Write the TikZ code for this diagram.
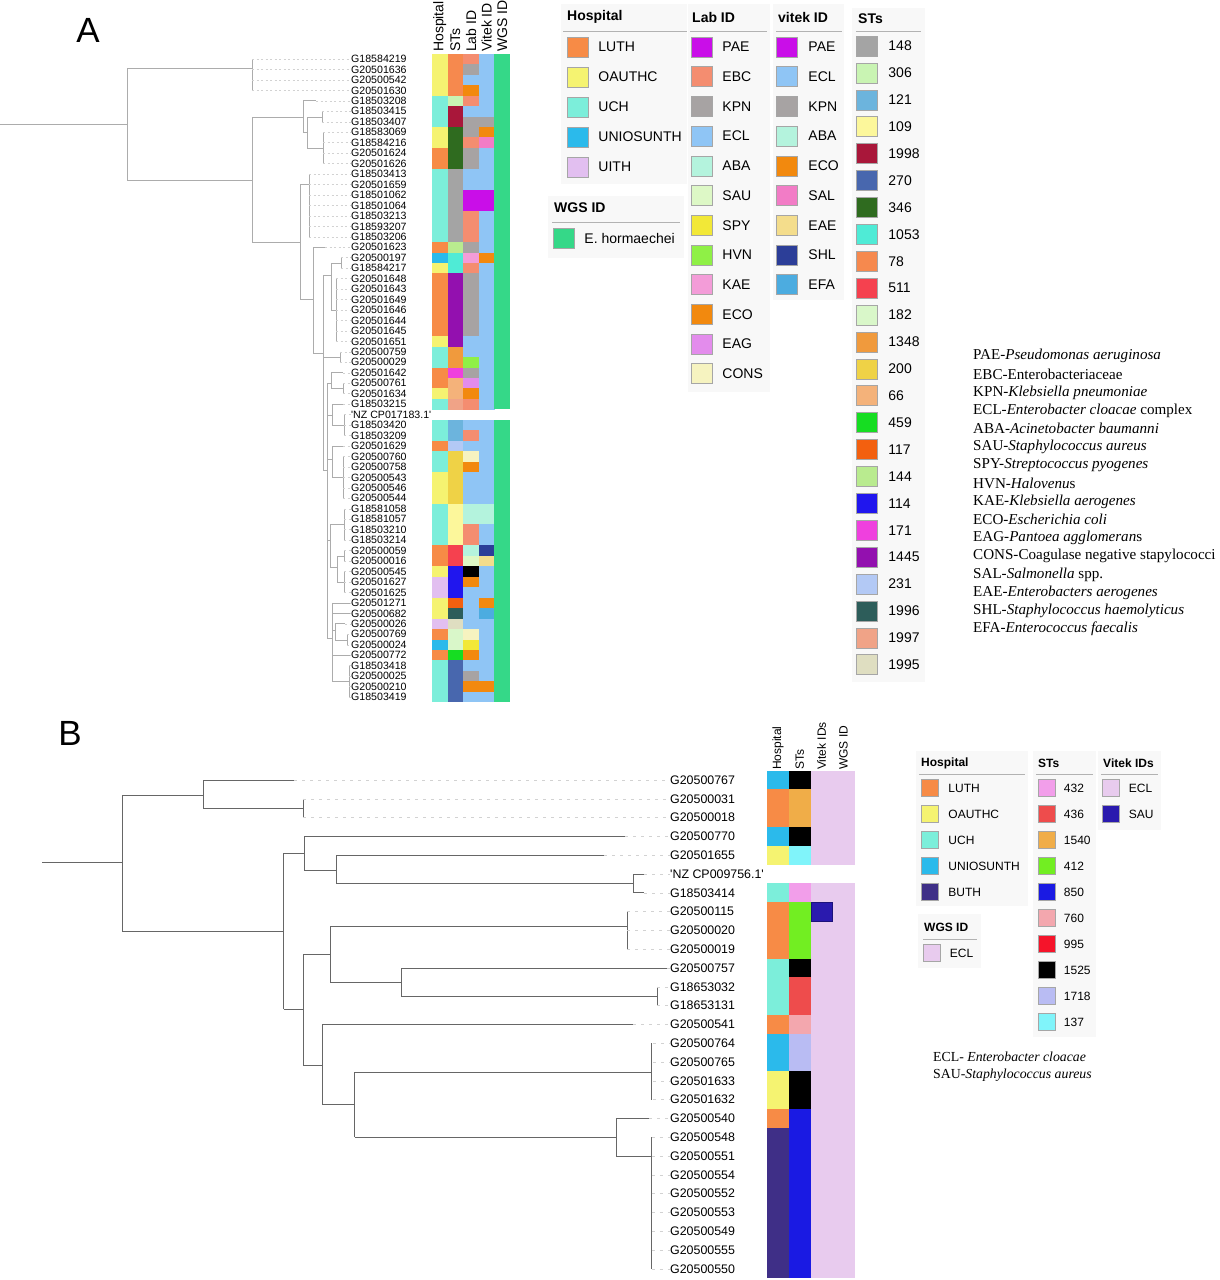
\documentclass[tikz,border=0pt]{standalone}
\usepackage{fontspec}
\setmainfont{Liberation Serif}
\setsansfont{Liberation Sans}
\usetikzlibrary{positioning}
\definecolor{luth}{HTML}{F78B46}
\definecolor{oauthc}{HTML}{F5F371}
\definecolor{uch}{HTML}{7CEEDA}
\definecolor{uniosunth}{HTML}{2BBAEB}
\definecolor{uith}{HTML}{E2BFF0}
\definecolor{buth}{HTML}{3F2F87}
\definecolor{pae}{HTML}{C90EE8}
\definecolor{ebc}{HTML}{F48D70}
\definecolor{kpn}{HTML}{A7A3A3}
\definecolor{ecl}{HTML}{8FC5F5}
\definecolor{aba}{HTML}{B4F3DD}
\definecolor{sau}{HTML}{DDF8C6}
\definecolor{spy}{HTML}{F2E837}
\definecolor{hvn}{HTML}{8FF046}
\definecolor{kae}{HTML}{F39CD8}
\definecolor{eco}{HTML}{F2890E}
\definecolor{eag}{HTML}{E38CEC}
\definecolor{cons}{HTML}{F6F3C0}
\definecolor{sal}{HTML}{F27CC6}
\definecolor{eae}{HTML}{F4DD8C}
\definecolor{shl}{HTML}{2C3E98}
\definecolor{efa}{HTML}{4CACE0}
\definecolor{st148}{HTML}{A4A4A4}
\definecolor{st306}{HTML}{C9F4B3}
\definecolor{st121}{HTML}{6CB4DD}
\definecolor{st109}{HTML}{FCF79B}
\definecolor{st1998}{HTML}{A9173A}
\definecolor{st270}{HTML}{4867AE}
\definecolor{st346}{HTML}{2F6B1F}
\definecolor{st1053}{HTML}{4FEBD6}
\definecolor{st78}{HTML}{F6894E}
\definecolor{st511}{HTML}{F5414F}
\definecolor{st182}{HTML}{D9F7C9}
\definecolor{st1348}{HTML}{F09A3D}
\definecolor{st200}{HTML}{EFD246}
\definecolor{st66}{HTML}{F4B27A}
\definecolor{st459}{HTML}{16DD22}
\definecolor{st117}{HTML}{F3600F}
\definecolor{st144}{HTML}{B9EB8F}
\definecolor{st114}{HTML}{2016EE}
\definecolor{st171}{HTML}{EF40DE}
\definecolor{st1445}{HTML}{9310AF}
\definecolor{st231}{HTML}{B3C9F5}
\definecolor{st1996}{HTML}{2D5D5A}
\definecolor{st1997}{HTML}{F0A387}
\definecolor{st1995}{HTML}{DFDEC1}
\definecolor{ehorm}{HTML}{35D888}
\definecolor{st432}{HTML}{F29EEA}
\definecolor{st436}{HTML}{EE4C4C}
\definecolor{st1540}{HTML}{F0AD48}
\definecolor{st412}{HTML}{72EE22}
\definecolor{st850}{HTML}{1A1AE3}
\definecolor{st760}{HTML}{F3A7AE}
\definecolor{st995}{HTML}{F5142A}
\definecolor{st1525}{HTML}{000000}
\definecolor{st1718}{HTML}{B9BCF3}
\definecolor{st137}{HTML}{80F4FA}
\definecolor{eclB}{HTML}{E8CBEE}
\definecolor{sauB}{HTML}{2A1AAE}
\definecolor{legbg}{HTML}{F8F8F8}

\newcommand{\ya}[1]{\fpeval{59+10.46*(#1-1)}}
\newcommand{\yb}[1]{\fpeval{780+18.8*(#1-1)}}

\begin{document}
\begin{tikzpicture}[
    x=1pt, y=-1pt,
    tree/.style={draw=gray!65, line width=0.7pt},
    treeB/.style={draw=black!60, line width=0.9pt},
    leader/.style={draw=gray!35, dash pattern=on 2pt off 2.5pt, line width=0.5pt},
    leaderB/.style={draw=gray!35, dash pattern=on 3pt off 5pt, line width=0.6pt},
    leafA/.style={anchor=west, inner sep=0pt, font=\sffamily\fontsize{10.6}{10.6}\selectfont},
    leafB/.style={anchor=west, inner sep=0pt, font=\sffamily\fontsize{12.4}{12.4}\selectfont},
    headA/.style={rotate=90, anchor=west, inner sep=0pt, font=\sffamily\fontsize{14}{14}\selectfont},
    headB/.style={rotate=90, anchor=west, inner sep=0pt, font=\sffamily\fontsize{12}{12}\selectfont},
    swA/.style={draw=gray!70, line width=0.5pt, minimum width=21pt, minimum height=20pt, inner sep=0pt},
    swB/.style={draw=gray!70, line width=0.5pt, minimum width=17pt, minimum height=17pt, inner sep=0pt},
    legA/.style={anchor=west, inner sep=0pt, font=\sffamily\fontsize{14}{14}\selectfont},
    legB/.style={anchor=west, inner sep=0pt, font=\sffamily\fontsize{12}{12}\selectfont},
    titleA/.style={anchor=west, inner sep=0pt, font=\sffamily\bfseries\fontsize{14}{14}\selectfont},
    titleB/.style={anchor=west, inner sep=0pt, font=\sffamily\bfseries\fontsize{12}{12}\selectfont},
    rule/.style={draw=gray!60, line width=0.8pt},
    legpanel/.style={fill=legbg, draw=none},
    species/.style={anchor=west, inner sep=0pt, font=\fontsize{15.1}{15.1}\selectfont},
    speciesB/.style={anchor=west, inner sep=0pt, font=\fontsize{13.8}{13.8}\selectfont},
    panel/.style={inner sep=0pt, font=\sffamily\fontsize{35}{35}\selectfont}
]

    \fill[white] (0,0) rectangle (1220,1280);
    \useasboundingbox (0,0) rectangle (1220,1280);

    \node[panel] (labA) at (88,30) {A};
    \node[panel] (labB) at (70,733) {B};

    % tree A
    \draw[tree] (0,124) -- (127,124) (127,68) -- (127,180)
        (127,68) -- (252,68) (252,\ya{1}) -- (252,\ya{4})
        (127,180) -- (252,180) (252,117) -- (252,242)
        (252,117) -- (303,117) (303,\ya{5}) -- (303,132)
        (303,\ya{5}) -- (316,\ya{5})
        (303,132) -- (307,132) (307,117) -- (307,148)
        (307,117) -- (322,117) (322,\ya{6}) -- (322,\ya{7})
        (307,148) -- (323,148) (323,\ya{8}) -- (323,\ya{11})
        (252,242) -- (300,242) (300,184) -- (300,299)
        (300,184) -- (309,184) (309,\ya{12}) -- (309,\ya{18})
        (300,299) -- (313,299) (313,\ya{19}) -- (313,353)
        (313,\ya{19}) -- (325,\ya{19})
        (313,353) -- (323,353) (323,275) -- (323,470)
        (323,275) -- (331,275) (331,263) -- (331,310)
        (331,263) -- (341,263) (341,\ya{20}) -- (341,\ya{21})
        (331,310) -- (336,310) (336,\ya{22}) -- (336,\ya{28})
        (323,357) -- (340,357) (340,\ya{29}) -- (340,\ya{30})
        (323,470) -- (327,470) (327,383) -- (327,638)
        (327,383) -- (331,383) (331,\ya{31}) -- (331,388)
        (331,\ya{31}) -- (343,\ya{31})
        (331,388) -- (343,388) (343,\ya{32}) -- (343,\ya{33})
        (327,415) -- (332,415) (332,\ya{34}) -- (332,425)
        (332,\ya{34}) -- (343,\ya{34})
        (332,425) -- (344,425) (344,\ya{35}) -- (344,\ya{37})
        (327,459) -- (332,459) (332,\ya{38}) -- (332,477)
        (332,\ya{38}) -- (343,\ya{38})
        (332,477) -- (343,477) (343,\ya{39}) -- (343,\ya{43})
        (327,540) -- (330,540) (330,524) -- (330,567)
        (330,524) -- (344,524) (344,\ya{44}) -- (344,\ya{47})
        (330,567) -- (337,567) (337,556) -- (337,582)
        (337,556) -- (344,556) (344,\ya{48}) -- (344,\ya{49})
        (337,582) -- (344,582) (344,\ya{50}) -- (344,\ya{52})
        (327,638) -- (332,638) (332,\ya{53}) -- (332,681)
        (332,\ya{53}) -- (350,\ya{53})
        (332,\ya{54}) -- (350,\ya{54})
        (332,630) -- (335,630) (335,\ya{55}) -- (335,640)
        (335,\ya{55}) -- (345,\ya{55})
        (335,640) -- (347,640) (347,\ya{56}) -- (347,\ya{57})
        (332,\ya{58}) -- (350,\ya{58})
        (332,681) -- (349,681) (349,\ya{59}) -- (349,\ya{62});

    % leaves and heatmap A
    \foreach \i/\nm/\hos/\stc/\lbc/\vtc/\tip in {
        1/G18584219/oauthc/st78/ebc/ecl/252, 2/G20501636/oauthc/st78/kpn/ecl/252,
        3/G20500542/oauthc/st78/ecl/ecl/252, 4/G20501630/oauthc/st78/eco/ecl/252,
        5/G18503208/uch/st306/ebc/ecl/316, 6/G18503415/uch/st1998/ecl/ecl/322,
        7/G18503407/uch/st1998/kpn/kpn/322, 8/G18583069/oauthc/st346/kpn/eco/323,
        9/G18584216/oauthc/st346/ebc/sal/323, 10/G20501624/luth/st346/kpn/ecl/323,
        11/G20501626/luth/st346/kpn/ecl/323, 12/G18503413/uch/st148/ecl/ecl/309,
        13/G20501659/uch/st148/ecl/ecl/309, 14/G18501062/uch/st148/pae/pae/309,
        15/G18501064/uch/st148/pae/pae/309, 16/G18503213/uch/st148/ebc/ecl/309,
        17/G18593207/uch/st148/ebc/ecl/309, 18/G18503206/uch/st148/ebc/ecl/309,
        19/G20501623/luth/st144/kpn/ecl/325, 20/G20500197/uniosunth/st1053/kae/eco/341,
        21/G18584217/oauthc/st1053/ebc/ecl/341, 22/G20501648/luth/st1445/kpn/ecl/336,
        23/G20501643/luth/st1445/kpn/ecl/336, 24/G20501649/luth/st1445/kpn/ecl/336,
        25/G20501646/luth/st1445/kpn/ecl/336, 26/G20501644/luth/st1445/kpn/ecl/336,
        27/G20501645/luth/st1445/kpn/ecl/336, 28/G20501651/oauthc/st1445/ecl/ecl/336,
        29/G20500759/uch/st1348/ecl/ecl/340, 30/G20500029/uch/st1348/hvn/ecl/340,
        31/G20501642/luth/st171/kpn/ecl/343, 32/G20500761/luth/st66/eag/ecl/343,
        33/G20501634/oauthc/st66/eco/ecl/343, 34/G18503215/uch/st1997/ebc/ecl/343,
        36/G18503420/uch/st121/ecl/ecl/344, 37/G18503209/uch/st121/ebc/ecl/344,
        38/G20501629/luth/st231/ecl/ecl/343, 39/G20500760/uch/st200/cons/ecl/343,
        40/G20500758/uch/st200/eco/ecl/343, 41/G20500543/oauthc/st200/ecl/ecl/343,
        42/G20500546/oauthc/st200/ecl/ecl/343, 43/G20500544/oauthc/st200/ecl/ecl/343,
        44/G18581058/uch/st109/aba/aba/344, 45/G18581057/uch/st109/aba/aba/344,
        46/G18503210/uch/st109/ebc/ecl/344, 47/G18503214/uch/st109/ebc/ecl/344,
        48/G20500059/luth/st511/aba/shl/344, 49/G20500016/luth/st511/sau/eae/344,
        50/G20500545/oauthc/st114/black/ecl/344, 51/G20501627/uith/st114/eco/ecl/344,
        52/G20501625/uith/st114/ecl/ecl/344, 53/G20501271/oauthc/st117/ecl/eco/350,
        54/G20500682/oauthc/st1996/ecl/efa/350, 55/G20500026/uith/st1995/ecl/ecl/345,
        56/G20500769/luth/st182/cons/ecl/347, 57/G20500024/uniosunth/st182/spy/ecl/347,
        58/G20500772/luth/st459/eco/ecl/350, 59/G18503418/uch/st270/ecl/ecl/349,
        60/G20500025/uch/st270/kpn/ecl/349, 61/G20500210/uch/st270/eco/eco/349,
        62/G18503419/uch/st270/ecl/ecl/349}{
        \node[leafA] (a\i) at (351,\ya{\i}) {\nm};
        \draw[leader] (\tip,\ya{\i}) -- (a\i.west);
        \fill[\hos] (432,\ya{\i}-5.23) rectangle +(15.8,10.6);
        \fill[\stc] (447.6,\ya{\i}-5.23) rectangle +(15.8,10.6);
        \fill[\lbc] (463.2,\ya{\i}-5.23) rectangle +(15.8,10.6);
        \fill[\vtc] (478.8,\ya{\i}-5.23) rectangle +(15.8,10.6);
    }
    \node[leafA] (a35) at (351,\ya{35}) {\textquotesingle NZ CP017183.1\textquotesingle};
    \draw[leader] (344,\ya{35}) -- (a35.west);
    \fill[ehorm] (494.4,53.77) rectangle (510,409.41);
    \fill[ehorm] (494.4,419.87) rectangle (510,702.3);

    \foreach \t [count=\k] in {Hospital, STs, Lab ID, Vitek ID, WGS ID}
        \node[headA] (hdA\k) at ({439.8+15.6*(\k-1)},52) {\t};

    % legends A
    \fill[legpanel] (561,4) rectangle (687,184);
    \fill[legpanel] (688,4) rectangle (770,392);
    \fill[legpanel] (773,4) rectangle (844,300);
    \fill[legpanel] (852,8) rectangle (925,682);
    \fill[legpanel] (548,196) rectangle (684,258);

    \node[titleA] (tHosp) at (567,17) {Hospital};
    \node[titleA] (tLab) at (692,17) {Lab ID};
    \node[titleA] (tVit) at (778,17) {vitek ID};
    \node[titleA] (tST) at (858,19) {STs};
    \node[titleA] (tWGS) at (554,208) {WGS ID};
    \draw[rule] (563,31) -- (687,31) (690,31) -- (767,31) (776,31) -- (842,31)
        (856,31) -- (921,31) (552,222) -- (680,222);

    \foreach \c/\t [count=\k] in {luth/LUTH, oauthc/OAUTHC, uch/UCH, uniosunth/UNIOSUNTH, uith/UITH}{
        \node[swA, fill=\c] (hospA\k) at (577.5,{17+30*\k}) {};
        \node[legA, right=10pt of hospA\k] {\t};
    }
    \foreach \c/\t [count=\k] in {pae/PAE, ebc/EBC, kpn/KPN, ecl/ECL, aba/ABA, sau/SAU,
        spy/SPY, hvn/HVN, kae/KAE, eco/ECO, eag/EAG, cons/CONS}{
        \node[swA, fill=\c] (labA\k) at (702,{47+29.7*(\k-1)}) {};
        \node[legA, right=9.5pt of labA\k] {\t};
    }
    \foreach \c/\t [count=\k] in {pae/PAE, ecl/ECL, kpn/KPN, aba/ABA, eco/ECO, sal/SAL,
        eae/EAE, shl/SHL, efa/EFA}{
        \node[swA, fill=\c] (vitA\k) at (787,{47+29.7*(\k-1)}) {};
        \node[legA, right=10.5pt of vitA\k] {\t};
    }
    \foreach \t [count=\k] in {148, 306, 121, 109, 1998, 270, 346, 1053, 78, 511, 182, 1348,
        200, 66, 459, 117, 144, 114, 171, 1445, 231, 1996, 1997, 1995}{
        \node[swA, fill=st\t] (stA\k) at (867,{46+26.9*(\k-1)}) {};
        \node[legA, right=10.5pt of stA\k] {\t};
    }
    \node[swA, fill=ehorm] (wgsA) at (563.5,238) {};
    \node[legA, right=10pt of wgsA] {E. hormaechei};

    \foreach \t [count=\k] in {
        {PAE-\textit{Pseudomonas aeruginosa}},
        {EBC-Enterobacteriaceae},
        {KPN-\textit{Klebsiella pneumoniae}},
        {ECL-\textit{Enterobacter cloacae} complex},
        {ABA-\textit{Acinetobacter baumanni}},
        {SAU-\textit{Staphylococcus aureus}},
        {SPY-\textit{Streptococcus pyogenes}},
        {HVN-\textit{Halovenu}s},
        {KAE-\textit{Klebsiella aerogenes}},
        {ECO-\textit{Escherichia coli}},
        {EAG-\textit{Pantoea agglomeran}s},
        {CONS-Coagulase negative stapylococci},
        {SAL-\textit{Salmonella} spp.},
        {EAE-\textit{Enterobacters aerogenes}},
        {SHL-\textit{Staphylococcus haemolyticus}},
        {EFA-\textit{Enterococcus faecalis}}}
        \node[species] (sp\k) at (973,{356+18.2*(\k-1)}) {\t};

    % tree B
    \draw[treeB] (42,\yb{5.41}) -- (122.5,\yb{5.41}) (122.5,\yb{1.8}) -- (122.5,\yb{9.06})
        (122.5,\yb{1.8}) -- (203,\yb{1.8}) (203,\yb{1}) -- (203,\yb{2.52})
        (203,\yb{1}) -- (294,\yb{1})
        (203,\yb{2.52}) -- (303,\yb{2.52}) (303,\yb{2}) -- (303,\yb{3})
        (122.5,\yb{9.06}) -- (283.5,\yb{9.06}) (283.5,\yb{4.9}) -- (283.5,\yb{13.2})
        (283.5,\yb{4.9}) -- (304,\yb{4.9}) (304,\yb{4}) -- (304,\yb{5.79})
        (304,\yb{4}) -- (625,\yb{4})
        (304,\yb{5.79}) -- (336,\yb{5.79}) (336,\yb{5}) -- (336,\yb{6.52})
        (336,\yb{5}) -- (604,\yb{5})
        (336,\yb{6.52}) -- (633,\yb{6.52}) (633,\yb{6}) -- (633,\yb{7})
        (633,\yb{6}) -- (644,\yb{6}) (633,\yb{7}) -- (644,\yb{7})
        (283.5,\yb{13.2}) -- (303,\yb{13.2}) (303,\yb{10.26}) -- (303,\yb{16.16})
        (303,\yb{10.26}) -- (330,\yb{10.26}) (330,\yb{8.78}) -- (330,\yb{11.78})
        (330,\yb{8.78}) -- (627,\yb{8.78}) (627,\yb{8}) -- (627,\yb{10})
        (330,\yb{11.78}) -- (401,\yb{11.78}) (401,\yb{11}) -- (401,\yb{12.5})
        (401,\yb{11}) -- (667,\yb{11})
        (401,\yb{12.5}) -- (657,\yb{12.5}) (657,\yb{12}) -- (657,\yb{13})
        (303,\yb{16.16}) -- (322,\yb{16.16}) (322,\yb{14}) -- (322,\yb{18.25})
        (322,\yb{14}) -- (633,\yb{14})
        (322,\yb{18.25}) -- (354.5,\yb{18.25}) (354.5,\yb{16.54}) -- (354.5,\yb{20})
        (354.5,\yb{16.54}) -- (651.5,\yb{16.54}) (651.5,\yb{15}) -- (651.5,\yb{18})
        (354.5,\yb{20}) -- (616,\yb{20}) (616,\yb{19}) -- (616,\yb{21})
        (616,\yb{19}) -- (649,\yb{19})
        (616,\yb{21}) -- (651.5,\yb{21}) (651.5,\yb{20}) -- (651.5,\yb{27});

    % leaves and heatmap B
    \foreach \i/\nm/\hos/\stc/\vtc/\tip in {
        1/G20500767/uniosunth/st1525/eclB/294, 2/G20500031/luth/st1540/eclB/303,
        3/G20500018/luth/st1540/eclB/303, 4/G20500770/uniosunth/st1525/eclB/625,
        5/G20501655/oauthc/st137/eclB/604, 7/G18503414/uch/st432/eclB/644,
        8/G20500115/luth/st412/sauB/627, 9/G20500020/luth/st412/eclB/627,
        10/G20500019/luth/st412/eclB/627, 11/G20500757/uch/st1525/eclB/667,
        12/G18653032/uch/st436/eclB/657, 13/G18653131/uch/st436/eclB/657,
        14/G20500541/luth/st760/eclB/633, 15/G20500764/uniosunth/st1718/eclB/653,
        16/G20500765/uniosunth/st1718/eclB/653, 17/G20501633/oauthc/st1525/eclB/653,
        18/G20501632/oauthc/st1525/eclB/653, 19/G20500540/luth/st850/eclB/649,
        20/G20500548/buth/st850/eclB/651.5, 21/G20500551/buth/st850/eclB/651.5,
        22/G20500554/buth/st850/eclB/651.5, 23/G20500552/buth/st850/eclB/651.5,
        24/G20500553/buth/st850/eclB/651.5, 25/G20500549/buth/st850/eclB/651.5,
        26/G20500555/buth/st850/eclB/651.5, 27/G20500550/buth/st850/eclB/651.5}{
        \node[leafB] (b\i) at (670,\yb{\i}) {\nm};
        \draw[leaderB] (\tip,\yb{\i}) -- (b\i.west);
        \fill[\hos] (767,\yb{\i}-9.4) rectangle +(22.2,19);
        \fill[\stc] (789,\yb{\i}-9.4) rectangle +(22.2,19);
        \fill[\vtc] (811,\yb{\i}-9.4) rectangle +(21.7,19);
    }
    \draw[sauB!70!black, line width=0.6pt] (811,\yb{8}-9.4) rectangle +(21.5,18.8);
    \node[leafB] (b6) at (670,\yb{6}) {\textquotesingle NZ CP009756.1\textquotesingle};
    \draw[leaderB] (644,\yb{6}) -- (b6.west);
    \fill[eclB] (832.5,770.6) rectangle (854.5,864.6);
    \fill[eclB] (832.5,883.4) rectangle (854.5,1278.2);

    \foreach \t [count=\k] in {Hospital, STs, Vitek IDs, WGS ID}
        \node[headB] (hdB\k) at ({778+21.8*(\k-1)},770) {\t};

    % legends B
    \fill[legpanel] (916,751) rectangle (1028,906);
    \fill[legpanel] (1033,751) rectangle (1096,1037);
    \fill[legpanel] (1098,751) rectangle (1161,830);
    \fill[legpanel] (918,914) rectangle (981,968);

    \node[titleB] (tHospB) at (921,763) {Hospital};
    \node[titleB] (tSTB) at (1038,763) {STs};
    \node[titleB] (tVitB) at (1103,763) {Vitek IDs};
    \node[titleB] (tWGSB) at (924,927) {WGS ID};
    \draw[rule] (919,774) -- (1025,774) (1036,774) -- (1093,774) (1101,774) -- (1158,774)
        (923,939) -- (977,939);

    \foreach \c/\t [count=\k] in {luth/LUTH, oauthc/OAUTHC, uch/UCH, uniosunth/UNIOSUNTH, buth/BUTH}{
        \node[swB, fill=\c] (hospB\k) at (929.5,{788+26*(\k-1)}) {};
        \node[legB, right=10pt of hospB\k] {\t};
    }
    \foreach \t [count=\k] in {432, 436, 1540, 412, 850, 760, 995, 1525, 1718, 137}{
        \node[swB, fill=st\t] (stB\k) at (1047,{788+26*(\k-1)}) {};
        \node[legB, right=8pt of stB\k] {\t};
    }
    \foreach \c/\t [count=\k] in {eclB/ECL, sauB/SAU}{
        \node[swB, fill=\c] (vitB\k) at (1111,{788+26*(\k-1)}) {};
        \node[legB, right=9pt of vitB\k] {\t};
    }
    \node[swB, fill=eclB] (wgsB) at (932,953) {};
    \node[legB, right=9pt of wgsB] {ECL};

    \node[speciesB] (spB1) at (933,1057) {ECL- \textit{Enterobacter cloacae}};
    \node[speciesB] (spB2) at (933,1075) {SAU-\textit{Staphylococcus aureus}};

\end{tikzpicture}
\end{document}
